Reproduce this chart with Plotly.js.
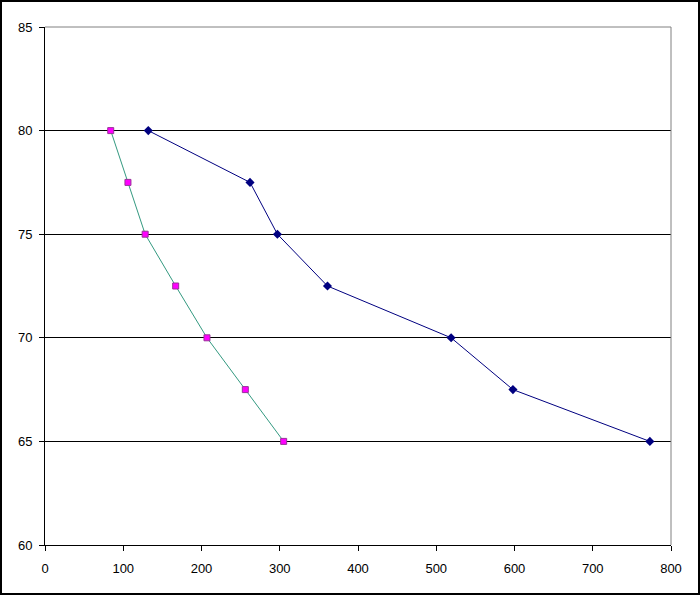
<!DOCTYPE html>
<html>
<head>
<meta charset="utf-8">
<script src="https://cdn.plot.ly/plotly-3.0.1.min.js"></script>
<style>
html,body{margin:0;padding:0;background:#fff;}
#wrap{position:relative;width:700px;height:595px;}
#chart{width:700px;height:595px;}
#frame{position:absolute;left:0;top:0;width:700px;height:595px;box-sizing:border-box;border:2px solid #000;pointer-events:none;}
</style>
</head>
<body>
<div id="wrap"><div id="chart"></div><div id="frame"></div></div>
<script>
// Series A (navy, diamonds)
const seriesAX = [132, 262, 297, 361, 519, 598, 773];
const seriesAY = [80, 77.5, 75, 72.5, 70, 67.5, 65];
// Series B (teal line, magenta squares)
const seriesBX = [84, 106, 128, 167, 207, 256, 305];
const seriesBY = [80, 77.5, 75, 72.5, 70, 67.5, 65];
const xTicks = [0, 100, 200, 300, 400, 500, 600, 700, 800];
const yTicks = [60, 65, 70, 75, 80, 85];

const traces = [
  {x: seriesAX, y: seriesAY, mode: 'lines+markers', type: 'scatter',
   line: {color: '#000080', width: 1},
   marker: {symbol: 'diamond', size: 7, color: '#000080', line: {width: 0}}},
  {x: seriesBX, y: seriesBY, mode: 'lines+markers', type: 'scatter',
   line: {color: '#339980', width: 1},
   marker: {symbol: 'square', size: 6, color: '#ff00ff', line: {color: '#993399', width: 1}}}
];

const layout = {
  width: 700, height: 595,
  margin: {l: 45, r: 29, t: 27, b: 50},
  paper_bgcolor: '#fff', plot_bgcolor: '#fff',
  showlegend: false,
  font: {family: 'Liberation Sans, Arial, sans-serif', size: 13, color: '#000'},
  xaxis: {range: [0, 800], tickvals: xTicks, ticktext: xTicks.map(String),
          showgrid: false, zeroline: false, showline: true, linecolor: '#000', linewidth: 1,
          ticks: 'outside', ticklen: 5, tickcolor: '#000', tickfont: {size: 13},
          ticklabelstandoff: 6},
  yaxis: {range: [60, 85], tickvals: yTicks, ticktext: yTicks.map(String),
          showgrid: true, gridcolor: '#000', gridwidth: 1, zeroline: false,
          showline: true, linecolor: '#000', linewidth: 1,
          ticks: 'outside', ticklen: 5, tickcolor: '#000', tickfont: {size: 13},
          ticklabelstandoff: 4},
  shapes: [
    {type: 'line', xref: 'paper', yref: 'paper', x0: 0, x1: 1, y0: 1, y1: 1, line: {color: '#808080', width: 1}, layer: 'above'},
    {type: 'line', xref: 'paper', yref: 'paper', x0: 1, x1: 1, y0: 0, y1: 1, line: {color: '#808080', width: 1}, layer: 'above'}
  ]
};
Plotly.newPlot('chart', traces, layout, {displayModeBar: false, staticPlot: true});
</script>
</body>
</html>
